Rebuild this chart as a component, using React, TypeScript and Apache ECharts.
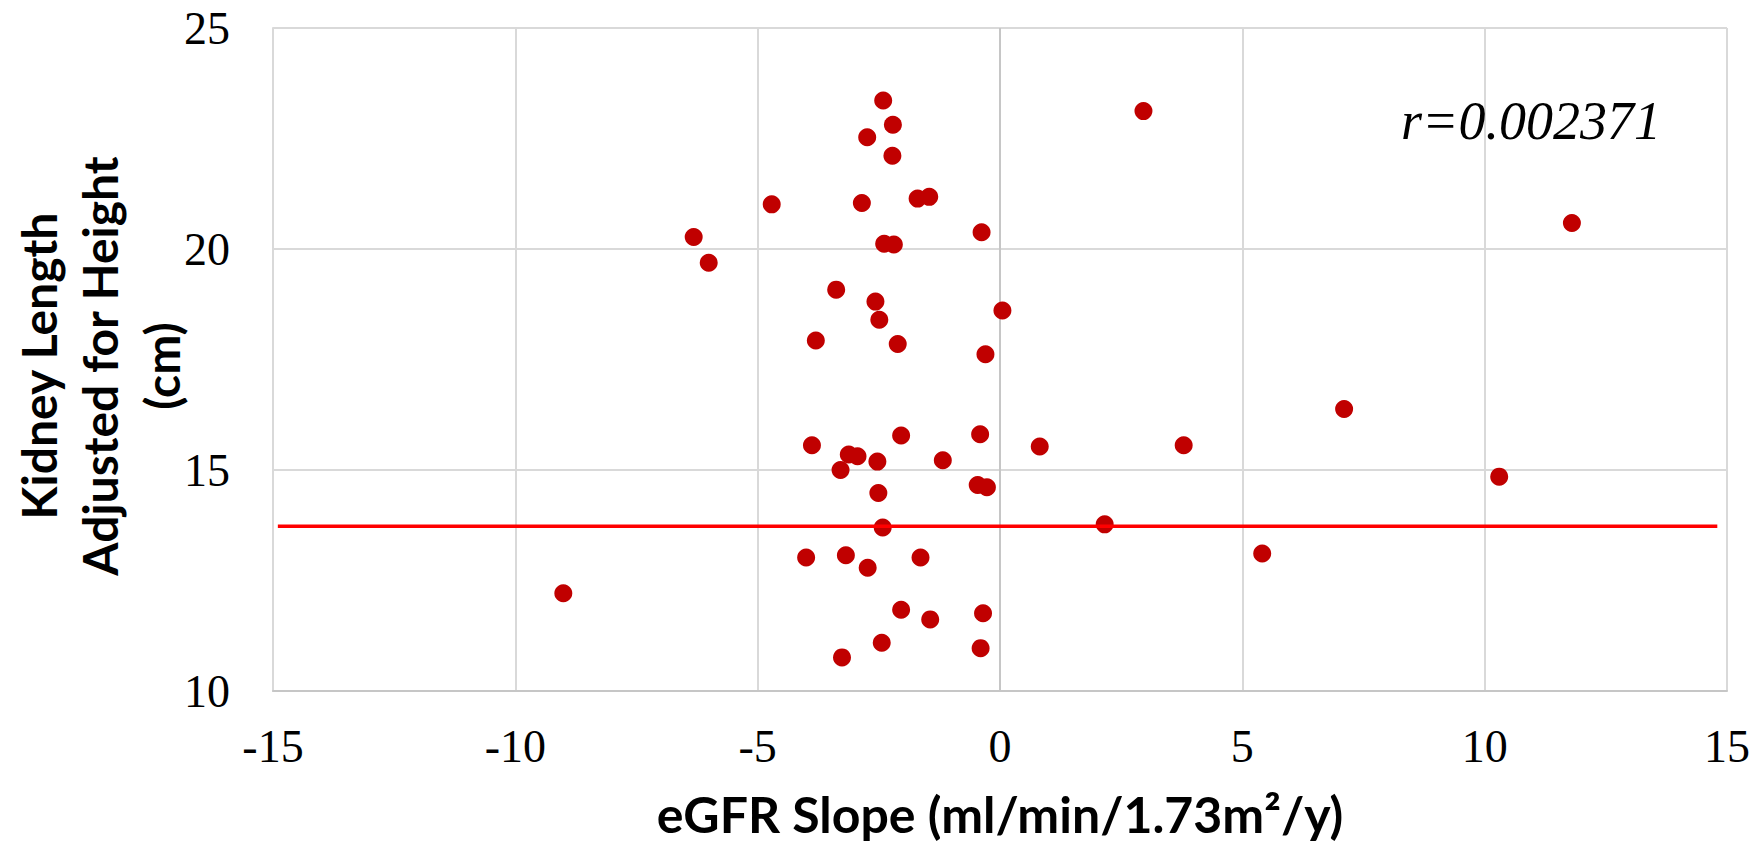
import React, { useEffect, useRef } from "react";
import * as echarts from "echarts";

// eGFR slope (x) and kidney length adjusted for height (y)
const xVals: number[] = [
  -2.41, -2.21, -2.74, -2.22, 2.96, -4.71, -2.85, -1.7, -1.46, -6.32, -6.01, -0.38,
  -2.39, -2.19, -3.38, -2.57, -2.49, 0.05, -3.8, -2.11, -0.3, 11.8, 7.1, 3.79,
  10.3, 5.41, -3.88, -2.04, -0.41, 0.82, -3.12, -2.94, -2.53, -1.18, -3.29, -2.51,
  -0.46, -0.27, -2.42, 2.16, -4.0, -3.18, -2.73, -1.64, -2.04, -1.44, -0.35, -2.44,
  -0.4, -3.26, -9.01,
];
const yVals: number[] = [
  23.36, 22.81, 22.53, 22.11, 23.12, 21.01, 21.04, 21.14, 21.18, 20.27, 19.69, 20.38,
  20.12, 20.1, 19.08, 18.81, 18.4, 18.61, 17.93, 17.85, 17.62, 20.59, 16.38, 15.56,
  14.85, 13.11, 15.56, 15.78, 15.81, 15.53, 15.35, 15.31, 15.19, 15.22, 15.0, 14.48,
  14.66, 14.61, 13.7, 13.77, 13.02, 13.07, 12.79, 13.02, 11.84, 11.62, 11.76, 11.09,
  10.97, 10.76, 12.21,
];
// linear trend line end points
const trendX: number[] = [-14.9, 14.8];
const trendY: number[] = [13.73, 13.73];

const xTicks = { min: -15, max: 15, interval: 5 };
const yTicks = { min: 10, max: 25, interval: 5 };

const xTitle = "eGFR Slope (ml/min/1.73m²/y)";
const yTitleLines: string[] = ["Kidney Length", "Adjusted for Height", "(cm)"];
const annotation = "r=0.002371";

export default function App() {
  const ref = useRef<HTMLDivElement>(null);
  useEffect(() => {
    document.body.style.margin = "0";
    if (!ref.current) return;
    const chart = echarts.init(ref.current, undefined, { renderer: "svg" });
    const points = xVals.map((x, i) => [x, yVals[i]]);
    const trend = trendX.map((x, i) => [x, trendY[i]]);
    const yTitleX = [38, 99, 161];
    chart.setOption({
      animation: false,
      backgroundColor: "#ffffff",
      grid: {
        left: 273,
        right: 37,
        top: 28,
        bottom: 155,
        containLabel: false,
        outerBoundsMode: "none",
      },
      xAxis: {
        type: "value",
        min: xTicks.min,
        max: xTicks.max,
        interval: xTicks.interval,
        name: xTitle,
        nameLocation: "middle",
        nameGap: 98,
        nameTextStyle: {
          fontFamily: "Lato",
          fontWeight: "bold",
          fontSize: 50,
          color: "#000",
        },
        axisLine: { show: true, onZero: false, lineStyle: { color: "#c6c6c6", width: 2 } },
        axisTick: { show: false },
        axisLabel: {
          margin: 32,
          fontFamily: "Liberation Serif",
          fontSize: 46,
          color: "#000",
        },
        splitLine: { show: true, lineStyle: { color: "#d9d9d9", width: 2 } },
      },
      yAxis: {
        type: "value",
        min: yTicks.min,
        max: yTicks.max,
        interval: yTicks.interval,
        axisLine: { show: true, onZero: false, lineStyle: { color: "#d9d9d9", width: 2 } },
        axisTick: { show: false },
        axisLabel: {
          margin: 43,
          fontFamily: "Liberation Serif",
          fontSize: 46,
          color: "#000",
        },
        splitLine: { show: true, lineStyle: { color: "#d9d9d9", width: 2 } },
      },
      series: [
        {
          type: "scatter",
          data: points,
          symbol: "circle",
          symbolSize: 18,
          itemStyle: { color: "#C00000", opacity: 1 },
          z: 3,
          markLine: {
            silent: true,
            symbol: ["none", "none"],
            label: { show: false },
            lineStyle: { color: "#c6c6c6", width: 2, type: "solid" },
            data: [{ xAxis: 0 }],
            z: 1,
          },
        },
        {
          type: "line",
          data: trend,
          showSymbol: false,
          symbol: "none",
          lineStyle: { color: "#FF0000", width: 3.5 },
          z: 4,
        },
      ],
      graphic: [
        {
          type: "text",
          x: 1401,
          y: 121,
          style: {
            text: annotation,
            fontFamily: "Liberation Serif",
            fontStyle: "italic",
            fontSize: 54,
            fill: "#000",
            align: "left",
            verticalAlign: "middle",
          },
          z: 10,
        },
        ...yTitleLines.map((t, i) => ({
          type: "text",
          x: yTitleX[i],
          y: 366,
          rotation: Math.PI / 2,
          style: {
            text: t,
            fontFamily: "Lato",
            fontWeight: "bold",
            fontSize: 48,
            fill: "#000",
            align: "center",
            verticalAlign: "middle",
          },
          z: 10,
        })),
      ],
    });
    return () => chart.dispose();
  }, []);
  return (
    <div
      ref={ref}
      style={{ position: "fixed", left: 0, top: 0, width: 1764, height: 846, background: "#fff" }}
    />
  );
}
